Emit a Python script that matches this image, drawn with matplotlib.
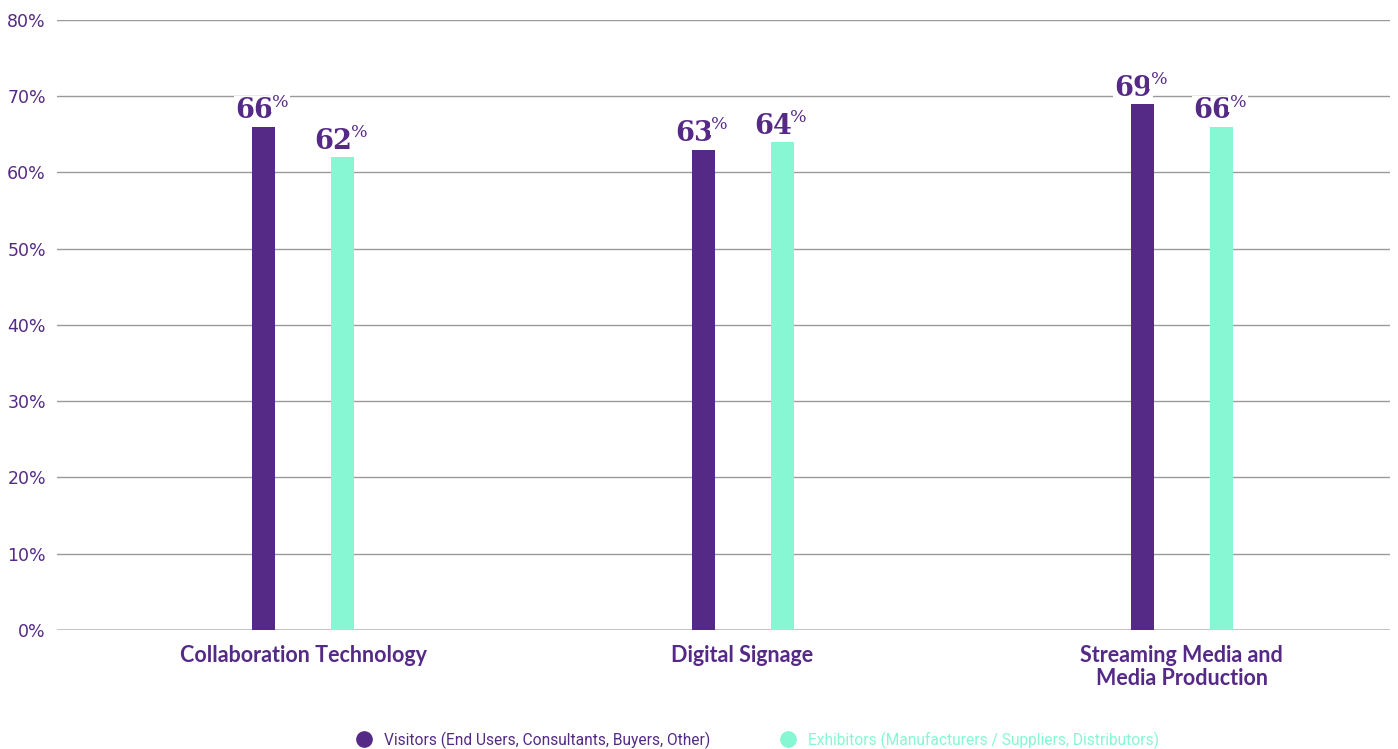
import numpy as np
import matplotlib
matplotlib.use("Agg")
import matplotlib.pyplot as plt
from matplotlib.lines import Line2D

categories = ["Collaboration Technology", "Digital Signage", "Streaming Media and\nMedia Production"]
visitors = [66, 63, 69]
exhibitors = [62, 64, 66]
series_names = ["Visitors (End Users, Consultants, Buyers, Other)",
                "Exhibitors (Manufacturers / Suppliers, Distributors)"]
yticks = [0, 10, 20, 30, 40, 50, 60, 70, 80]

PURPLE = "#552a86"
TEAL = "#86f7d2"

fig = plt.figure(figsize=(13.98, 7.49), dpi=100)
ax = fig.add_axes([0.0408, 0.1589, 0.9535, 0.8144])

x = np.arange(len(categories))
w = 0.0524
off = 0.09

ax.bar(x - off, visitors, w, color=PURPLE, zorder=3)
ax.bar(x + off, exhibitors, w, color=TEAL, zorder=3)

# value labels: bold serif number with a small raised percent sign
for xs, vals in ((x - off, visitors), (x + off, exhibitors)):
    for xi, v in zip(xs, vals):
        ax.annotate(str(v), (xi, v), xytext=(7, 6), textcoords="offset points",
                    ha="right", va="baseline", fontsize=19.5, fontweight="bold",
                    family="DejaVu Serif", color=PURPLE, zorder=4,
                    bbox=dict(facecolor="white", edgecolor="none", pad=1))
        ax.annotate("%", (xi, v), xytext=(6, 14.5), textcoords="offset points",
                    ha="left", va="baseline", fontsize=12.5,
                    family="DejaVu Serif", color=PURPLE, zorder=4,
                    bbox=dict(facecolor="white", edgecolor="none", pad=1))

ax.set_ylim(0, 80)
ax.set_xlim(-0.5606, 2.474)
ax.set_yticks(yticks)
ax.set_yticklabels([f"{t}%" for t in yticks], fontsize=12.5, color=PURPLE, family="DejaVu Sans")
ax.set_xticks(x)
ax.set_xticklabels(categories, fontsize=15.5, fontweight="bold", color=PURPLE, family="Lato",
                   linespacing=1.12)
ax.tick_params(axis="y", length=0, pad=8)
ax.tick_params(axis="x", length=0, pad=11)

for t in yticks[1:]:
    ax.axhline(t, color="#9a9a9a", lw=1, zorder=1)
ax.axhline(0, color="#bdbdbd", lw=2, zorder=2)

for s in ax.spines.values():
    s.set_visible(False)

handles = [Line2D([], [], marker="o", ls="", color=PURPLE, markersize=11),
           Line2D([], [], marker="o", ls="", color=TEAL, markersize=11)]
fig.legend(handles, series_names, loc="center", bbox_to_anchor=(0.539, 0.012), ncol=2,
           frameon=False, labelcolor=[PURPLE, TEAL], handletextpad=0.3, columnspacing=4.0,
           prop={"family": "Roboto", "size": 11.2})

fig.savefig("out.png", dpi=100)
